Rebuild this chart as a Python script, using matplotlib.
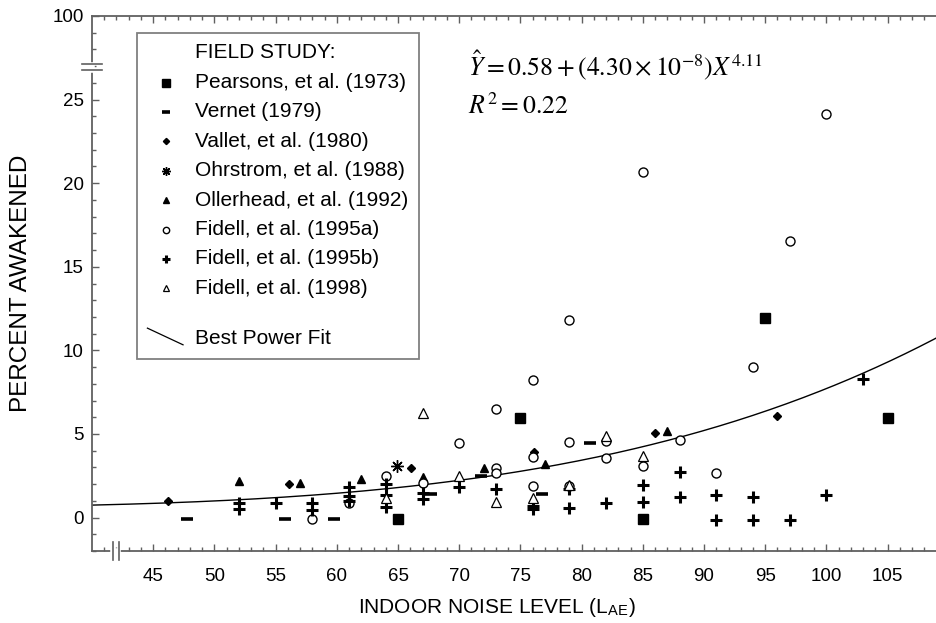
import numpy as np
import matplotlib.pyplot as plt
from matplotlib import font_manager
from matplotlib.lines import Line2D
from matplotlib.legend_handler import HandlerBase
from matplotlib.ticker import FixedLocator

plt.rcParams['font.family'] = ['Liberation Sans', 'DejaVu Sans']
plt.rcParams['mathtext.fontset'] = 'stix'

installed = {f.name for f in font_manager.fontManager.ttflist}
narrow = 'Liberation Sans Narrow' if 'Liberation Sans Narrow' in installed else 'Liberation Sans'

# data (x = indoor L_AE, y = percent awakened)
pearsons_x = [65, 75, 85, 95, 105]
pearsons_y = [-0.1, 5.95, -0.1, 11.95, 5.95]

vernet_x = [47.8, 55.8, 59.8, 67.7, 71.8, 76.8, 80.7]
vernet_y = [-0.1, -0.1, -0.1, 1.4, 2.5, 1.4, 4.45]

vallet_x = [46.2, 56.1, 66.1, 76.1, 86.0, 96.0]
vallet_y = [1.0, 2.0, 2.95, 3.9, 5.05, 6.05]

ohrstrom_x = [64.9]
ohrstrom_y = [3.1]

ollerhead_x = [52, 57, 62, 67, 72, 77, 87]
ollerhead_y = [2.2, 2.05, 2.3, 2.45, 2.95, 3.2, 5.15]

fidell95a_x = [58, 61, 64, 67, 70, 73, 73, 73, 76, 76, 76, 79, 79, 79,
               82, 82, 85, 85, 88, 91, 94, 97, 100]
fidell95a_y = [-0.1, 0.85, 2.5, 2.05, 4.45, 6.5, 2.95, 2.65, 8.25, 3.6,
               1.9, 11.8, 4.5, 1.9, 4.6, 3.55, 20.65, 3.1, 4.65, 2.65,
               9.0, 16.55, 24.15]

fidell95b_x = [52, 52, 55, 58, 58, 61, 61, 61, 64, 64, 64, 67, 67, 70, 73,
               76, 76, 79, 79, 82, 85, 85, 88, 88, 91, 91, 94, 94, 97,
               100, 103]
fidell95b_y = [0.85, 0.5, 0.85, 0.9, 0.45, 1.8, 1.3, 1.0, 2.0, 1.35, 0.65,
               1.45, 1.1, 1.8, 1.7, 0.7, 0.5, 1.7, 0.55, 0.85, 1.95, 0.95,
               2.7, 1.25, 1.35, -0.15, 1.25, -0.15, -0.15, 1.35, 8.3]

fidell98_x = [64, 67, 70, 73, 76, 79, 82, 85]
fidell98_y = [1.15, 6.25, 2.5, 0.95, 1.15, 1.95, 4.9, 3.7]

# best power fit shown on the chart
fit_a, fit_b, fit_c = 0.58, 4.30e-8, 4.11

x_ticks = list(range(45, 106, 5))
y_ticks = [0, 5, 10, 15, 20, 25, 30]
y_tick_labels = ['0', '5', '10', '15', '20', '25', '100']

AX = '#606060'

fig = plt.figure(figsize=(9.36, 6.23), dpi=100)
ax = fig.add_axes([92 / 936, 1 - 551 / 623, 1 - 92 / 936, (551 - 16) / 623])
ax.set_xlim(40, 108.95)
ax.set_ylim(-2, 30)

xfit = np.linspace(40, 108.95, 300)
ax.plot(xfit, fit_a + fit_b * xfit ** fit_c, color='black', lw=1.0, zorder=2)

h_pear, = ax.plot(pearsons_x, pearsons_y, ls='none', marker='s', ms=7.5, color='black')
h_vern, = ax.plot(vernet_x, vernet_y, ls='none', marker='_', ms=8, mew=2.6, color='black')
h_vall, = ax.plot(vallet_x, vallet_y, ls='none', marker='D', ms=4.5, color='black')
h_ohrs, = ax.plot(ohrstrom_x, ohrstrom_y, ls='none', marker=(8, 2, 0), ms=9, mew=1.0, color='black')
h_olle, = ax.plot(ollerhead_x, ollerhead_y, ls='none', marker='^', ms=5.5, color='black')
h_f95a, = ax.plot(fidell95a_x, fidell95a_y, ls='none', marker='o', ms=6.5, mfc='white', mec='black', mew=1.0)
h_f95b, = ax.plot(fidell95b_x, fidell95b_y, ls='none', marker='+', ms=8, mew=2.2, color='black')
h_f98, = ax.plot(fidell98_x, fidell98_y, ls='none', marker='^', ms=6.5, mfc='white', mec='black', mew=0.9)

# axes styling
ax.spines['right'].set_visible(False)
for s in ['left', 'bottom', 'top']:
    ax.spines[s].set_color(AX)
    ax.spines[s].set_linewidth(1.3)

ax.set_xticks(x_ticks)
ax.xaxis.set_minor_locator(FixedLocator(range(41, 109)))
ax.set_yticks(y_ticks)
ax.set_yticklabels(y_tick_labels)
ax.yaxis.set_minor_locator(FixedLocator(range(-2, 30)))
ax.tick_params(which='both', direction='in', top=True, right=False, color=AX, width=1.0)
ax.tick_params(which='major', length=5)
ax.tick_params(which='minor', length=3)
ax.tick_params(axis='x', which='major', pad=12)
ax.tick_params(axis='y', which='major', pad=6)
for t in ax.get_xticklabels():
    t.set_fontfamily(narrow)
    t.set_fontsize(13.5)
for t in ax.get_yticklabels():
    t.set_fontsize(13.5)

ax.set_xlabel(r'INDOOR NOISE LEVEL (L$_{\mathregular{AE}}$)', fontfamily=narrow, fontsize=15)
ax.xaxis.set_label_coords((497 - 92) / 844, -0.085)
ax.set_ylabel('PERCENT AWAKENED', fontsize=17.5)
ax.yaxis.set_label_coords(-0.071, 0.5)

# axis breaks
ty = ax.get_yaxis_transform()
ax.plot([0, 0], [26.78, 27.08], color='white', lw=4, transform=ty, clip_on=False, zorder=6)
for yb in (26.75, 27.1):
    ax.plot([-0.0115, 0.0115], [yb, yb], color=AX, lw=1.2, transform=ty, clip_on=False, zorder=7)
tx = ax.get_xaxis_transform()
ax.plot([41.75, 42.15], [0, 0], color='white', lw=4, transform=tx, clip_on=False, zorder=6)
for xb in (41.7, 42.2):
    ax.plot([xb, xb], [-0.017, 0.017], color=AX, lw=1.2, transform=tx, clip_on=False, zorder=7)

# fit equation
fig.text(468 / 936, 1 - 65 / 623, r'$\hat{Y} = 0.58 + (4.30\times10^{-8})X^{4.11}$',
         fontsize=18.5, va='center', ha='left')
fig.text(468 / 936, 1 - 106 / 623, r'$R^2 = 0.22$', fontsize=18.5, va='center', ha='left')


class DiagonalLine(HandlerBase):
    def create_artists(self, legend, orig_handle, xdescent, ydescent,
                       width, height, fontsize, trans):
        yc = -ydescent + height / 2
        line = Line2D([-xdescent, -xdescent + 0.95 * width],
                      [yc + 0.4 * fontsize, yc - 0.4 * fontsize],
                      color='black', lw=0.9, transform=trans)
        return [line]


header = Line2D([], [], ls='none')
spacer = Line2D([], [], ls='none')
fit_handle = Line2D([], [], color='black')
handles = [header, h_pear, h_vern, h_vall, h_ohrs, h_olle, h_f95a, h_f95b, h_f98,
           spacer, fit_handle]
labels = ['FIELD STUDY:', 'Pearsons, et al. (1973)', 'Vernet (1979)',
          'Vallet, et al. (1980)', 'Ohrstrom, et al. (1988)',
          'Ollerhead, et al. (1992)', 'Fidell, et al. (1995a)',
          'Fidell, et al. (1995b)', 'Fidell, et al. (1998)', '', 'Best Power Fit']
leg = ax.legend(handles, labels, loc='upper left',
                bbox_to_anchor=(137 / 936, 1 - 33 / 623), bbox_transform=fig.transFigure,
                frameon=True, fancybox=False, framealpha=1, edgecolor='#808080',
                fontsize=15, handlelength=1.8, handleheight=0.05, handletextpad=0.5,
                labelspacing=0.5, borderpad=0.5, borderaxespad=0, markerscale=0.7,
                numpoints=1, handler_map={fit_handle: DiagonalLine()})
leg.get_frame().set_linewidth(1.3)
leg.get_texts()[9].set_fontsize(1)

fig.savefig('out.png', dpi=100)
